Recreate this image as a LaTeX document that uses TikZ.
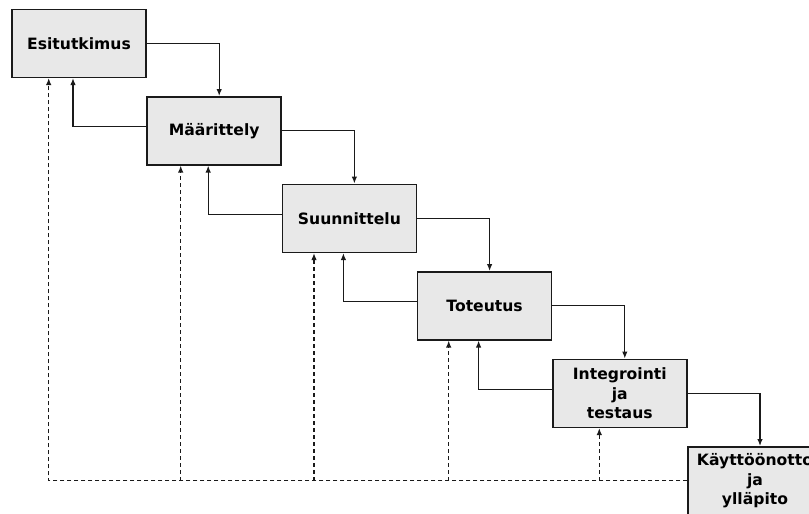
\documentclass[tikz,border=0pt]{standalone}
\usepackage{fontspec}
\setmainfont{DejaVu Sans}
\usetikzlibrary{arrows.meta}
\definecolor{boxfill}{HTML}{E8E8E8}
\definecolor{inkline}{HTML}{1A1A1A}
\begin{document}
\begin{tikzpicture}[x=1pt,y=-1pt,
  phase/.style={draw=inkline, line width=1.5pt, fill=boxfill, rectangle,
    minimum width=134pt, minimum height=68pt, inner sep=2pt, align=center,
    font=\fontsize{15.6}{19.3}\selectfont\bfseries},
  flow/.style={draw=inkline, line width=1.3pt, -{Latex[length=7pt,width=5.5pt]}},
  feedback/.style={flow},
  dashlink/.style={draw=inkline, line width=1.3pt, dash pattern=on 4pt off 3pt},
  dasharrow/.style={dashlink, -{Latex[length=7pt,width=5.5pt]}}]
\useasboundingbox (0,0) rectangle (809,514);

% phases of the waterfall
\node[phase] (b1) at (79,43.3)    {Esitutkimus};
\node[phase] (b2) at (214.2,130.8) {Määrittely};
\node[phase] (b3) at (349.4,218.3) {Suunnittelu};
\node[phase] (b4) at (484.6,305.8) {Toteutus};
\node[phase] (b5) at (619.8,393.3) {Integrointi\\ja\\testaus};
\node[phase] (b6) at (755,480.8)   {Käyttöönotto\\ja\\ylläpito};

% forward flow
\foreach \a/\b in {b1/b2,b2/b3,b3/b4,b4/b5,b5/b6}
  \draw[flow] (\a.east) -| ([xshift=5pt]\b.north);

% step back to the previous phase
\foreach \a/\b in {b2/b1,b3/b2,b4/b3,b5/b4}
  \draw[feedback] ([yshift=4pt]\a.west) -| ([xshift=-6pt]\b.south);

% return paths from maintenance
\coordinate (d1) at ([xshift=-30.3pt]b1.south);
\coordinate (d2) at ([xshift=-33.5pt]b2.south);
\coordinate (d3) at ([xshift=-35.4pt]b3.south);
\coordinate (d4) at ([xshift=-35.9pt]b4.south);
\coordinate (d5) at ([xshift=-20.5pt]b5.south);
\draw[dasharrow] (b6.west) -| (d1);
\foreach \d in {d2,d3,d4,d5}
  \draw[dasharrow] (\d |- b6.west) -- (\d);
\end{tikzpicture}
\end{document}
